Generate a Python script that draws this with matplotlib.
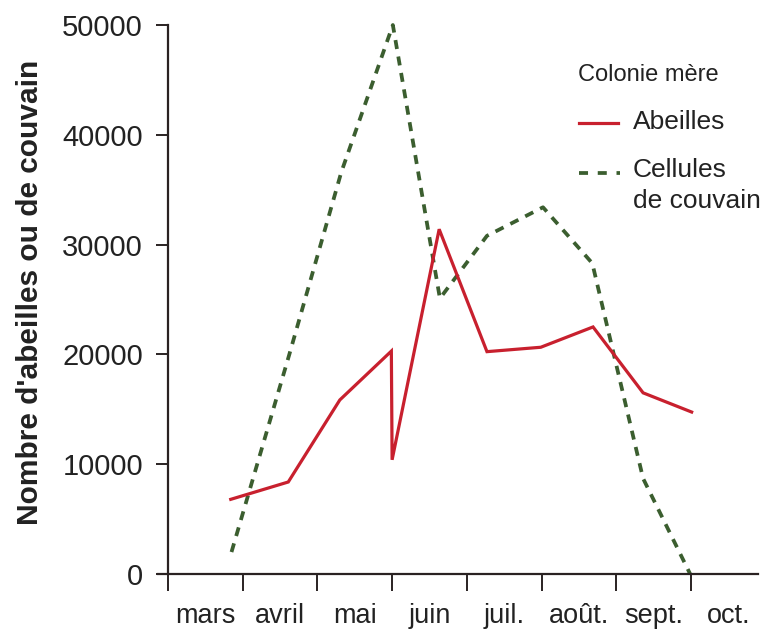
import matplotlib
matplotlib.use("Agg")
import matplotlib.pyplot as plt
from matplotlib.lines import Line2D

plt.rcParams['font.family'] = ['Liberation Sans', 'DejaVu Sans']
plt.rcParams['lines.scale_dashes'] = False

# Data (x in months, 0 = start of March)
months = ["mars", "avril", "mai", "juin", "juil.", "août.", "sept.", "oct."]
abeilles_x = [0.84, 1.61, 2.30, 2.99, 3.00, 3.63, 4.27, 4.99, 5.69, 6.36, 7.01]
abeilles_y = [6800, 8380, 15850, 20300, 10400, 31400, 20250, 20650, 22500, 16500, 14750]
couvain_x = [0.85, 1.62, 2.32, 3.01, 3.64, 4.27, 5.02, 5.68, 6.36, 6.99]
couvain_y = [2000, 19900, 36600, 50000, 25100, 30800, 33400, 28300, 8700, 0]
yticks = [0, 10000, 20000, 30000, 40000, 50000]

W, H = 764, 632
fig = plt.figure(figsize=(W / 100, H / 100), dpi=100)
# axes box in pixels: left 158, right 758, bottom 574 (y=0), top 25 (y=50000)
ax = fig.add_axes([158 / W, (H - 574) / H, (758 - 158) / W, (574 - 25) / H])
px_per_month = 74.7
ax.set_xlim((158 - 168) / px_per_month, (758 - 168) / px_per_month)
ax.set_ylim(0, 50000)

axis_color = "#2a2222"
text_color = "#222222"
red = "#c8202e"
green = "#3b5e2f"

ax.plot(abeilles_x, abeilles_y, color=red, lw=2.3, solid_joinstyle="miter", clip_on=False, zorder=3)
ax.plot(couvain_x, couvain_y, color=green, lw=2.7, dashes=(6.5, 5.5), clip_on=False, zorder=2)

for s in ["top", "right"]:
    ax.spines[s].set_visible(False)
ax.spines["left"].set_position(("data", 0))
ax.spines["left"].set_color(axis_color)
ax.spines["bottom"].set_color(axis_color)
ax.spines["left"].set_linewidth(1.6)
ax.spines["bottom"].set_linewidth(1.6)

ax.set_yticks(yticks)
ax.set_yticklabels([str(v) for v in yticks])
ax.tick_params(axis="y", length=9, width=1.4, color=axis_color, labelsize=21,
               labelcolor=text_color, pad=9)

ax.set_xticks(range(0, 8))
ax.set_xticklabels([""] * 8)
ax.set_xticks([i + 0.5 for i in range(len(months))], minor=True)
ax.set_xticklabels(months, minor=True)
ax.tick_params(axis="x", which="major", length=12, width=1.4, color=axis_color, direction="out")
ax.tick_params(axis="x", which="minor", length=0, labelsize=19.5, labelcolor=text_color, pad=21)

fig.text(30 / W, 1 - 292 / H, "Nombre d'abeilles ou de couvain", rotation=90,
         fontsize=21.5, fontweight="bold", color=text_color, ha="center", va="center")

# Legend (manual)
def fx(x):
    return x / W

def fy(y):
    return 1 - y / H

fig.text(fx(578), fy(75), "Colonie mère", fontsize=17, color=text_color, ha="left", va="center")
fig.add_artist(Line2D([fx(579), fx(618)], [fy(123), fy(123)], color=red, lw=2.3,
                      transform=fig.transFigure))
fig.text(fx(633), fy(122), "Abeilles", fontsize=19, color=text_color, ha="left", va="center")
fig.add_artist(Line2D([fx(579), fx(620)], [fy(173), fy(173)], color=green, lw=2.7,
                      dashes=(6.5, 7), transform=fig.transFigure))
fig.text(fx(633), fy(170), "Cellules", fontsize=19, color=text_color, ha="left", va="center")
fig.text(fx(633), fy(201), "de couvain", fontsize=19, color=text_color, ha="left", va="center")

fig.savefig("out.png", dpi=100, facecolor="white")
